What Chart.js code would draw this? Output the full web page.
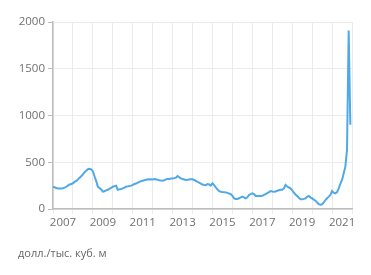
<!DOCTYPE html>
<html>
<head>
<meta charset="utf-8">
<script src="https://cdn.jsdelivr.net/npm/chart.js@4"></script>
<style>
html,body{margin:0;padding:0;background:#fff;}
#wrap{position:relative;width:371px;height:275px;}
#unit{position:absolute;left:18px;top:245px;font:11px "Open Sans",sans-serif;color:#666;}
</style>
</head>
<body>
<div id="wrap">
<canvas id="c" width="371" height="275"></canvas>
<div id="unit">долл./тыс. куб. м</div>
</div>
<script>
const startYear = 2007;
const yearLabels = ["2007","2009","2011","2013","2015","2017","2019","2021"];
const yTicks = [0, 500, 1000, 1500, 2000];
// monthly prices, Jan 2007 .. Dec 2021
const prices2007 = [235,232,225,220,218,220,222,228,238,250,262,268];
const prices2008 = [275,290,300,315,335,350,370,395,410,425,430,425];
const prices2009 = [405,350,300,240,225,210,185,190,200,206,215,225];
const prices2010 = [238,245,250,206,210,214,220,228,239,242,245,250];
const prices2011 = [258,267,272,282,290,298,303,308,312,317,315,318];
const prices2012 = [316,320,318,312,308,305,303,308,317,320,322,325];
const prices2013 = [327,330,335,352,340,327,320,315,310,312,315,317];
const prices2014 = [317,310,300,290,282,272,262,257,255,267,262,250];
const prices2015 = [275,255,230,210,190,185,182,180,178,172,165,160];
const prices2016 = [140,114,108,107,115,125,132,125,114,125,150,160];
const prices2017 = [167,160,139,138,139,139,142,150,160,170,180,192];
const prices2018 = [188,185,187,195,200,205,206,220,257,240,230,221];
const prices2019 = [200,174,155,139,120,103,103,108,114,130,139,125];
const prices2020 = [114,100,89,70,53,45,50,70,96,115,132,150];
const prices2021 = [192,175,167,180,221,270,310,380,453,631,1908,900];

const prices = [].concat(prices2007,prices2008,prices2009,prices2010,prices2011,prices2012,prices2013,prices2014,prices2015,prices2016,prices2017,prices2018,prices2019,prices2020,prices2021);
const points = prices.map((v,i)=>({x:i, y:v}));

new Chart(document.getElementById('c'), {
  type: 'line',
  data: { datasets: [{ data: points, borderColor: '#4fa9e6', borderWidth: 2, pointRadius: 0, tension: 0, fill: false }] },
  options: {
    responsive: false, animation: false,
    layout: { padding: { left: 0, right: 19, top: 22, bottom: 0 } },
    plugins: { legend: { display: false }, tooltip: { enabled: false } },
    scales: {
      x: {
        type: 'linear', min: 0, max: 180,
        afterBuildTicks: ax => { const t=[]; for (let m=0;m<=180;m+=12) t.push({value:m}); ax.ticks = t; },
        afterFit: ax => { ax.height = 66; },
        ticks: {
          autoSkip: false, maxRotation: 0, padding: 2, labelOffset: 10,
          color: '#707070', font: { family: 'Open Sans', size: 11.5 },
          callback: (v) => { const i = v/12; return (i%2===0 && i/2 < yearLabels.length) ? yearLabels[i/2] : ''; }
        },
        grid: { color: '#ebebeb', lineWidth: 1, tickLength: 5, tickColor: '#ebebeb' },
        border: { color: '#bdbdbd', width: 1.5 }
      },
      y: {
        min: 0, max: 2000,
        afterBuildTicks: ax => { ax.ticks = yTicks.map(v=>({value:v})); },
        afterFit: ax => { ax.width = 53; },
        ticks: { padding: 3, color: '#707070', font: { family: 'Open Sans', size: 11.5 }, callback: v => String(v) },
        grid: { color: '#ebebeb', lineWidth: 1, tickLength: 5, tickColor: '#bdbdbd' },
        border: { color: '#bdbdbd', width: 1.5 }
      }
    }
  }
});
</script>
</body>
</html>
